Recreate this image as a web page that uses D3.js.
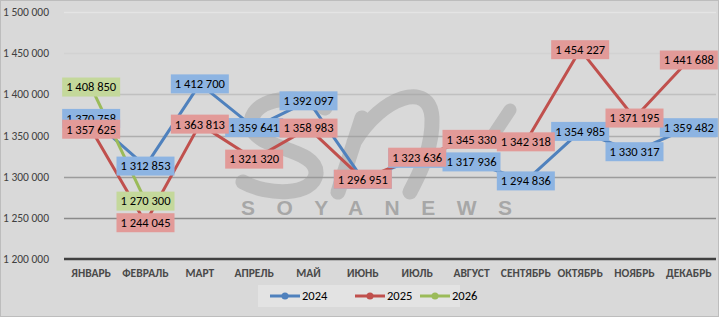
<!DOCTYPE html>
<html>
<head>
<meta charset="utf-8">
<script src="https://cdn.jsdelivr.net/npm/d3@7"></script>
<style>
  body { margin: 0; background: #fff; }
  svg { display: block; font-family: Carlito, "Liberation Sans Narrow", "Liberation Sans", sans-serif; }
</style>
</head>
<body>
<svg width="719" height="317"></svg>
<script>
// months on the x axis
var months = ["ЯНВАРЬ", "ФЕВРАЛЬ", "МАРТ", "АПРЕЛЬ", "МАЙ", "ИЮНЬ", "ИЮЛЬ", "АВГУСТ", "СЕНТЯБРЬ", "ОКТЯБРЬ", "НОЯБРЬ", "ДЕКАБРЬ"];

// values per year (2024 June/July are hidden under the 2025 labels, estimated)
var v2024 = [1370758, 1312853, 1412700, 1359641, 1392097, 1296600, 1322200, 1317936, 1294836, 1354985, 1330317, 1359482];
var v2025 = [1357625, 1244045, 1363813, 1321320, 1358983, 1296951, 1323636, 1345330, 1342318, 1454227, 1371195, 1441688];
var v2026 = [1408850, 1270300];

var yTicks = [1200000, 1250000, 1300000, 1350000, 1400000, 1450000, 1500000];

var series = [
  { name: "2024", values: v2024, line: "#4f81bd", box: "#8db4e2" },
  { name: "2025", values: v2025, line: "#c0504d", box: "#e29a98" },
  { name: "2026", values: v2026, line: "#9bbb59", box: "#c4d89b" }
];

var svg = d3.select("svg");

var width = 719, height = 317;
var margin = { top: 12, bottom: 58, left: 64, right: 3 };

// chart background + border
svg.append("rect")
  .attr("x", 0.5).attr("y", 0.5)
  .attr("width", width - 1).attr("height", height - 1)
  .attr("fill", "#d9d9d9")
  .attr("stroke", "#bdbdbd");

var x = d3.scaleBand()
  .domain(months)
  .range([margin.left, width - margin.right]);

var y = d3.scaleLinear()
  .domain([1200000, 1500000])
  .range([height - margin.bottom, margin.top]);

function fmt(v) {
  return d3.format(",")(v).replace(/,/g, " ");
}

// gridlines, lighter at the top
var gridColor = d3.scaleLinear().domain([1250000, 1500000]).range(["#8a8a8a", "#e4e4e4"]);
svg.append("g")
  .selectAll("line")
  .data(yTicks.slice(1))
  .enter()
  .append("line")
  .attr("x1", margin.left).attr("x2", width - margin.right)
  .attr("y1", function(d) { return Math.round(y(d)) + 0.5; })
  .attr("y2", function(d) { return Math.round(y(d)) + 0.5; })
  .attr("stroke", function(d) { return gridColor(d); })
  .attr("stroke-width", 1.3);

// y labels
svg.append("g")
  .selectAll("text")
  .data(yTicks)
  .enter()
  .append("text")
  .attr("x", 3)
  .attr("y", function(d) { return y(d); })
  .attr("dy", "0.35em")
  .attr("font-size", "11.5px")
  .attr("fill", "#404040")
  .text(fmt);

// watermark
var wm = svg.append("g").attr("fill", "none").attr("stroke", "#999").attr("stroke-opacity", 0.45)
  .attr("stroke-linecap", "round").attr("stroke-width", 15);
wm.append("path").attr("d", "M325,108 C295,90 245,100 252,128 C258,150 318,148 316,174 C313,196 268,196 243,182");
wm.append("path").attr("d", "M338,192 L362,118 M354,142 C382,96 430,80 432,118 C433,150 418,176 410,192");
wm.append("path").attr("d", "M490,140 L510,110").attr("stroke-width", 13);

svg.append("text")
  .attr("x", 241).attr("y", 215)
  .attr("font-family", "'Liberation Sans', Arial, sans-serif")
  .attr("font-weight", "bold")
  .attr("font-size", "21px")
  .attr("letter-spacing", "21.5px")
  .attr("fill", "#9e9e9e")
  .attr("fill-opacity", 0.85)
  .text("SOYANEWS");

// x axis line
svg.append("line")
  .attr("x1", margin.left).attr("x2", width - margin.right)
  .attr("y1", y(1200000)).attr("y2", y(1200000))
  .attr("stroke", "#404040").attr("stroke-width", 2.5);

// x labels
svg.append("g")
  .selectAll("text")
  .data(months)
  .enter()
  .append("text")
  .attr("x", function(d) { return x(d) + x.bandwidth() / 2; })
  .attr("y", 277)
  .attr("text-anchor", "middle")
  .attr("font-size", "11.5px")
  .attr("font-weight", "bold")
  .attr("fill", "#4a4a4a")
  .text(function(d) { return d; });

var line = d3.line()
  .x(function(d, i) { return x(months[i]) + x.bandwidth() / 2; })
  .y(function(d) { return y(d); });

// lines and markers
series.forEach(function(s) {
  svg.append("path")
    .attr("d", line(s.values))
    .attr("fill", "none")
    .attr("stroke", s.line)
    .attr("stroke-width", 3)
    .attr("stroke-linejoin", "round");
  svg.append("g")
    .selectAll("circle")
    .data(s.values)
    .enter()
    .append("circle")
    .attr("cx", function(d, i) { return x(months[i]) + x.bandwidth() / 2; })
    .attr("cy", function(d) { return y(d); })
    .attr("r", 8)
    .attr("fill", s.line);
});

// data labels, centred on the points
series.forEach(function(s) {
  var g = svg.append("g");
  s.values.forEach(function(d, i) {
    var cx = x(months[i]) + x.bandwidth() / 2;
    var cy = y(d);
    var t = g.append("text")
      .attr("x", cx).attr("y", cy)
      .attr("dy", "0.35em")
      .attr("text-anchor", "middle")
      .attr("font-size", "12.5px")
      .attr("fill", "#000")
      .text(fmt(d));
    var w = t.node().getComputedTextLength();
    g.insert("rect", function() { return t.node(); })
      .attr("x", cx - w / 2 - 4).attr("y", cy - 9.5)
      .attr("width", w + 8).attr("height", 19)
      .attr("fill", s.box);
  });
});

// legend
var lg = svg.append("g");
lg.append("rect")
  .attr("x", 258).attr("y", 285).attr("width", 202).attr("height", 22)
  .attr("fill", "#e3e3e3");
var legX = [270, 355, 420];
series.forEach(function(s, i) {
  lg.append("line")
    .attr("x1", legX[i]).attr("x2", legX[i] + 30)
    .attr("y1", 296).attr("y2", 296)
    .attr("stroke", s.line).attr("stroke-width", 3);
  lg.append("circle")
    .attr("cx", legX[i] + 15).attr("cy", 296).attr("r", 3.5)
    .attr("fill", s.line);
  lg.append("text")
    .attr("x", legX[i] + 32).attr("y", 296)
    .attr("dy", "0.35em")
    .attr("font-size", "12.5px")
    .attr("fill", "#000")
    .text(s.name);
});
</script>
</body>
</html>
